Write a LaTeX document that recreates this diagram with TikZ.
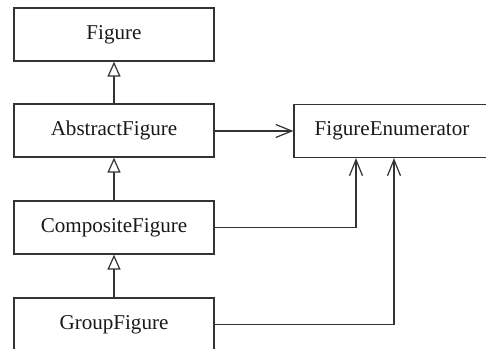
\documentclass[tikz,border=0pt]{standalone}
\usepackage{fontspec}
\setmainfont{Liberation Serif}
\usepackage{tikz}
\usetikzlibrary{arrows.meta}

\tikzset{
  cls/.style={draw=black!80,line width=0.7pt,minimum height=1.06cm,text=black!90,font=\fontsize{12}{14}\selectfont},
  inherit/.style={line width=0.7pt,draw=black!80,-{Triangle[open,length=0.3cm,width=0.26cm]}},
  uses/.style={line width=0.7pt,draw=black!80,-{Straight Barb[length=0.32cm,width=0.26cm]}}
}

\begin{document}
\begin{tikzpicture}
\useasboundingbox (0,0) rectangle (9.72,6.98);
\node[cls,minimum width=4cm](fig) at (2.28,6.29){Figure};
\node[cls,minimum width=4cm](absfig) at (2.28,4.37){AbstractFigure};
\node[cls,minimum width=4cm](compfig) at (2.28,2.43){CompositeFigure};
\node[cls,minimum width=4cm](grpfig) at (2.28,0.49){GroupFigure};
\node[cls,minimum width=3.92cm](figenum) at (7.84,4.36){FigureEnumerator};
% inheritance
\draw[inherit](absfig)--(fig);
\draw[inherit](compfig)--(absfig);
\draw[inherit](grpfig)--(compfig);
% uses
\draw[uses](absfig.east|-figenum)--(figenum.west);
\draw[uses](compfig.east)-|([xshift=-0.72cm]figenum.south);
\draw[uses](grpfig.east)-|([xshift=0.04cm]figenum.south);
\end{tikzpicture}
\end{document}
